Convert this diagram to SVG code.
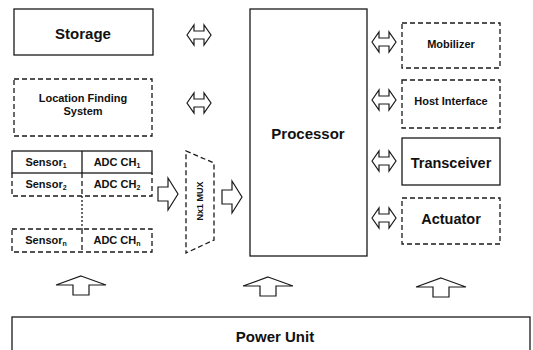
<svg xmlns="http://www.w3.org/2000/svg" width="533" height="350" viewBox="0 0 533 350">
<style>
.solid{fill:none;stroke:#1a1a1a;stroke-width:1.3}
.dash{fill:none;stroke:#1a1a1a;stroke-width:1.3;stroke-dasharray:5 3}
.dot{fill:none;stroke:#1a1a1a;stroke-width:1.3;stroke-dasharray:2 2}
.arr{fill:#fff;stroke:#1a1a1a;stroke-width:1.2;stroke-linejoin:miter}
.t{font-family:"Liberation Sans",Arial,sans-serif;font-weight:bold;fill:#111;text-anchor:middle;dominant-baseline:central}
.l{font-size:15px}.m{font-size:14.5px}.s{font-size:11px}.xs{font-size:9px}
</style>
<defs>
<path id="dbl" d="M-12,0 L-5,-10 L-5,-4 L5,-4 L5,-10 L12,0 L5,10 L5,4 L-5,4 L-5,10 Z"/>
<path id="up" d="M0,0 L25,9 L8,9 L8,19 L-8,19 L-8,9 L-25,9 Z"/>
<path id="right" d="M0,-7 L10,-7 L10,-16 L20,0 L10,16 L10,7 L0,7 Z"/>
</defs>
<rect width="533" height="350" fill="#fff"/>
<g id="storage"><rect class="solid" x="14" y="9" width="139" height="46"/><text class="t l" x="83" y="33">Storage</text></g>
<g id="location"><rect class="dash" x="14" y="79" width="138" height="57"/><text class="t s" x="83" y="98">Location Finding</text><text class="t s" x="83" y="111">System</text></g>
<g id="sensors">
<rect class="solid" x="12" y="151" width="140" height="22"/>
<line class="solid" x1="82" y1="151" x2="82" y2="173"/>
<path class="dash" d="M12,173 L12,196 L152,196 L152,173 M82,173 L82,196"/>
<rect class="dash" x="12" y="229" width="140" height="23"/>
<line class="dash" x1="82" y1="229" x2="82" y2="252"/>
<text class="t s" x="46" y="162">Sensor<tspan font-size="7" dy="3">1</tspan></text>
<text class="t s" x="117" y="162">ADC CH<tspan font-size="7" dy="3">1</tspan></text>
<text class="t s" x="46" y="184">Sensor<tspan font-size="7" dy="3">2</tspan></text>
<text class="t s" x="117" y="184">ADC CH<tspan font-size="7" dy="3">2</tspan></text>
<text class="t s" x="46" y="240">Sensor<tspan font-size="7" dy="3">n</tspan></text>
<text class="t s" x="117" y="240">ADC CH<tspan font-size="7" dy="3">n</tspan></text>
</g>
<g id="mux"><path class="dash" d="M186,151 L214,163 L214,240 L186,253 Z"/><text class="t xs" transform="translate(200,201) rotate(-90)">Nx1 MUX</text></g>
<g id="processor"><rect class="solid" x="250" y="9" width="117" height="247"/><text class="t l" x="308" y="133">Processor</text></g>
<g id="mobilizer"><rect class="dash" x="402" y="23" width="98" height="45"/><text class="t s" x="451" y="44">Mobilizer</text></g>
<g id="host"><rect class="dash" x="402" y="80" width="98" height="48"/><text class="t s" x="451" y="101">Host Interface</text></g>
<g id="transceiver"><rect class="solid" x="402" y="138" width="98" height="47"/><text class="t m" x="451" y="163">Transceiver</text></g>
<g id="actuator"><rect class="dash" x="402" y="198" width="98" height="46"/><text class="t m" x="451" y="219">Actuator</text></g>
<g id="power"><rect class="solid" x="12" y="317" width="518" height="40"/><text class="t l" x="275" y="336">Power Unit</text></g>
<g id="connectors">
<line class="dot" x1="82" y1="196" x2="82" y2="229"/>
<use href="#dbl" class="arr" x="199" y="35"/>
<use href="#dbl" class="arr" x="199" y="103"/>
<use href="#dbl" class="arr" x="384" y="42"/>
<use href="#dbl" class="arr" x="384" y="100"/>
<use href="#dbl" class="arr" x="384" y="161"/>
<use href="#dbl" class="arr" x="384" y="218"/>
<use href="#right" class="arr" x="158" y="194"/>
<use href="#right" class="arr" x="222" y="197"/>
<use href="#up" class="arr" x="81" y="276"/>
<use href="#up" class="arr" x="268" y="277"/>
<use href="#up" class="arr" x="441" y="278"/>
</g>
</svg>
